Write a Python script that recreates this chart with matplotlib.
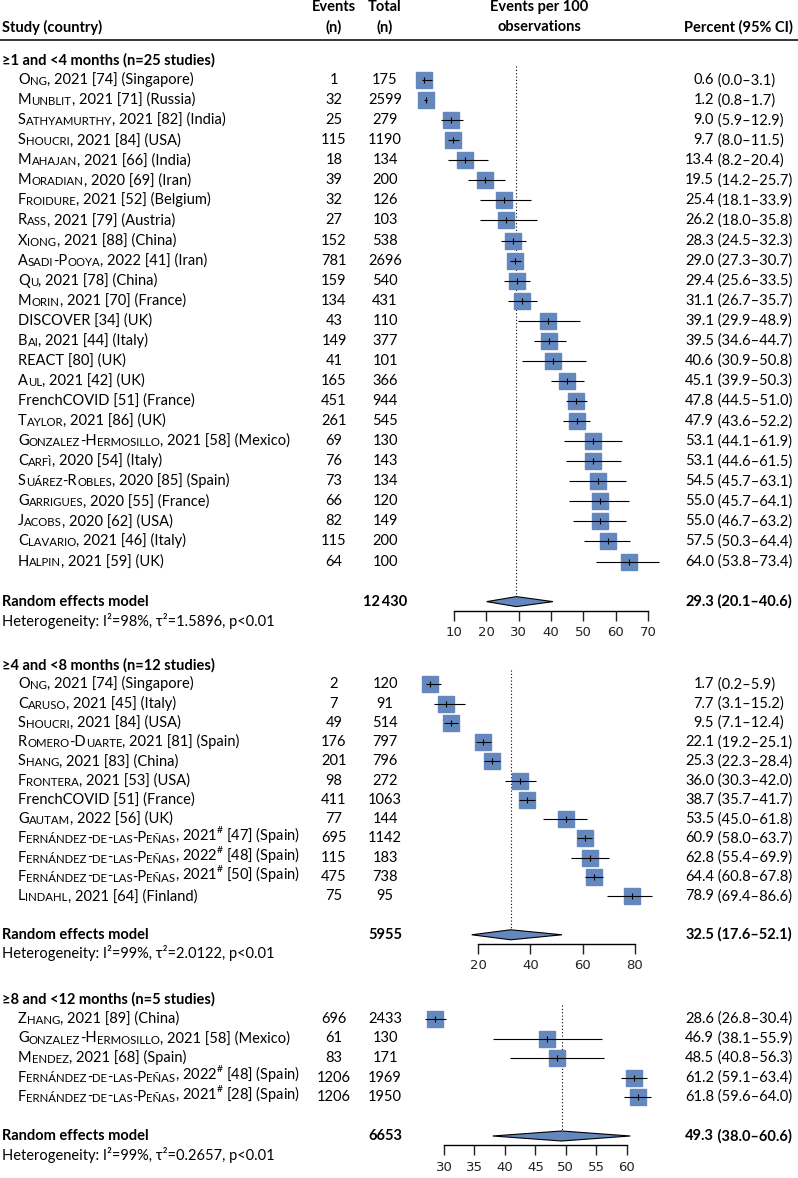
import matplotlib
matplotlib.use('Agg')

import matplotlib.pyplot as plt
from matplotlib.patches import Polygon

plt.rcParams['font.family'] = ['Lato', 'DejaVu Sans']
plt.rcParams['mathtext.fontset'] = 'custom'
plt.rcParams['mathtext.rm'] = 'Lato'
plt.rcParams['mathtext.bf'] = 'Lato:bold'

W, H = 798, 1178
FS = 10.5
BOX = '#6487BE'

# ----------------------------
# data: >=1 and <4 months
# ----------------------------
s1_title = "≥1 and <4 months (n=25 studies)"
s1_author = ["Ong", "Munblit", "Sathyamurthy", "Shoucri", "Mahajan", "Moradian",
             "Froidure", "Rass", "Xiong", "Asadi-Pooya", "Qu", "Morin", "",
             "Bai", "", "Aul", "", "Taylor", "Gonzalez-Hermosillo", "Carfì",
             "Suárez-Robles", "Garrigues", "Jacobs", "Clavario", "Halpin"]
s1_rest = [", 2021 [74] (Singapore)", ", 2021 [71] (Russia)", ", 2021 [82] (India)",
           ", 2021 [84] (USA)", ", 2021 [66] (India)", ", 2020 [69] (Iran)",
           ", 2021 [52] (Belgium)", ", 2021 [79] (Austria)", ", 2021 [88] (China)",
           ", 2022 [41] (Iran)", ", 2021 [78] (China)", ", 2021 [70] (France)",
           "DISCOVER [34] (UK)", ", 2021 [44] (Italy)", "REACT [80] (UK)",
           ", 2021 [42] (UK)", "FrenchCOVID [51] (France)", ", 2021 [86] (UK)",
           ", 2021 [58] (Mexico)", ", 2020 [54] (Italy)", ", 2020 [85] (Spain)",
           ", 2020 [55] (France)", ", 2020 [62] (USA)", ", 2021 [46] (Italy)",
           ", 2021 [59] (UK)"]
s1_events = [1, 32, 25, 115, 18, 39, 32, 27, 152, 781, 159, 134, 43, 149, 41, 165,
             451, 261, 69, 76, 73, 66, 82, 115, 64]
s1_total = [175, 2599, 279, 1190, 134, 200, 126, 103, 538, 2696, 540, 431, 110, 377,
            101, 366, 944, 545, 130, 143, 134, 120, 149, 200, 100]
s1_est = [0.6, 1.2, 9.0, 9.7, 13.4, 19.5, 25.4, 26.2, 28.3, 29.0, 29.4, 31.1, 39.1,
          39.5, 40.6, 45.1, 47.8, 47.9, 53.1, 53.1, 54.5, 55.0, 55.0, 57.5, 64.0]
s1_lo = [0.0, 0.8, 5.9, 8.0, 8.2, 14.2, 18.1, 18.0, 24.5, 27.3, 25.6, 26.7, 29.9,
         34.6, 30.9, 39.9, 44.5, 43.6, 44.1, 44.6, 45.7, 45.7, 46.7, 50.3, 53.8]
s1_hi = [3.1, 1.7, 12.9, 11.5, 20.4, 25.7, 33.9, 35.8, 32.3, 30.7, 33.5, 35.7, 48.9,
         44.7, 50.8, 50.3, 51.0, 52.2, 61.9, 61.5, 63.1, 64.1, 63.2, 64.4, 73.4]
s1_re = [29.3, 20.1, 40.6]
s1_sum = "12\u2009430"
s1_het = "Heterogeneity: I²=98%, τ²=1.5896, p<0.01"
s1_ticks = [10, 20, 30, 40, 50, 60, 70]

# ----------------------------
# data: >=4 and <8 months
# ----------------------------
s2_title = "≥4 and <8 months (n=12 studies)"
s2_author = ["Ong", "Caruso", "Shoucri", "Romero-Duarte", "Shang", "Frontera", "",
             "Gautam", "Fernández-de-las-Peñas", "Fernández-de-las-Peñas",
             "Fernández-de-las-Peñas", "Lindahl"]
s2_rest = [", 2021 [74] (Singapore)", ", 2021 [45] (Italy)", ", 2021 [84] (USA)",
           ", 2021 [81] (Spain)", ", 2021 [83] (China)", ", 2021 [53] (USA)",
           "FrenchCOVID [51] (France)", ", 2022 [56] (UK)",
           r", 2021$^{\#}$ [47] (Spain)", r", 2022$^{\#}$ [48] (Spain)",
           r", 2021$^{\#}$ [50] (Spain)", ", 2021 [64] (Finland)"]
s2_events = [2, 7, 49, 176, 201, 98, 411, 77, 695, 115, 475, 75]
s2_total = [120, 91, 514, 797, 796, 272, 1063, 144, 1142, 183, 738, 95]
s2_est = [1.7, 7.7, 9.5, 22.1, 25.3, 36.0, 38.7, 53.5, 60.9, 62.8, 64.4, 78.9]
s2_lo = [0.2, 3.1, 7.1, 19.2, 22.3, 30.3, 35.7, 45.0, 58.0, 55.4, 60.8, 69.4]
s2_hi = [5.9, 15.2, 12.4, 25.1, 28.4, 42.0, 41.7, 61.8, 63.7, 69.9, 67.8, 86.6]
s2_re = [32.5, 17.6, 52.1]
s2_sum = "5955"
s2_het = "Heterogeneity: I²=99%, τ²=2.0122, p<0.01"
s2_ticks = [20, 40, 60, 80]

# ----------------------------
# data: >=8 and <12 months
# ----------------------------
s3_title = "≥8 and <12 months (n=5 studies)"
s3_author = ["Zhang", "Gonzalez-Hermosillo", "Mendez", "Fernández-de-las-Peñas",
             "Fernández-de-las-Peñas"]
s3_rest = [", 2021 [89] (China)", ", 2021 [58] (Mexico)", ", 2021 [68] (Spain)",
           r", 2022$^{\#}$ [48] (Spain)", r", 2021$^{\#}$ [28] (Spain)"]
s3_events = [696, 61, 83, 1206, 1206]
s3_total = [2433, 130, 171, 1969, 1950]
s3_est = [28.6, 46.9, 48.5, 61.2, 61.8]
s3_lo = [26.8, 38.1, 40.8, 59.1, 59.6]
s3_hi = [30.4, 55.9, 56.3, 63.4, 64.0]
s3_re = [49.3, 38.0, 60.6]
s3_sum = "6653"
s3_het = "Heterogeneity: I²=99%, τ²=0.2657, p<0.01"
s3_ticks = [30, 35, 40, 45, 50, 55, 60]

sections = [
    dict(title=s1_title, author=s1_author, rest=s1_rest, events=s1_events,
         total=s1_total, est=s1_est, lo=s1_lo, hi=s1_hi, re=s1_re, sum=s1_sum,
         het=s1_het, ticks=s1_ticks,
         head_y=60, step=20.06, xmap=(10, 454, 70, 648)),
    dict(title=s2_title, author=s2_author, rest=s2_rest, events=s2_events,
         total=s2_total, est=s2_est, lo=s2_lo, hi=s2_hi, re=s2_re, sum=s2_sum,
         het=s2_het, ticks=s2_ticks,
         head_y=665, step=19.27, xmap=(20, 478, 80, 635)),
    dict(title=s3_title, author=s3_author, rest=s3_rest, events=s3_events,
         total=s3_total, est=s3_est, lo=s3_lo, hi=s3_hi, re=s3_re, sum=s3_sum,
         het=s3_het, ticks=s3_ticks,
         head_y=999.5, step=19.5, xmap=(30, 444, 60, 626.7)),
]

# column x positions (pixels)
X_STUDY = 2
X_INDENT = 18
X_EVENTS = 334
X_TOTAL = 385
X_EST = 714
X_PCT = 793
FX0, FX1 = 400, 705   # pixel span of the forest panels


def smallcaps_label(ax, x, y, author, rest):
    pieces = []
    for ch in author:
        small = ch.islower()
        if pieces and pieces[-1][1] == small:
            pieces[-1][0] += ch.upper()
        else:
            pieces.append([ch.upper(), small])
    pieces.append([rest, False])
    prev = None
    for txt, small in pieces:
        fs = FS * 0.78 if small else FS
        if prev is None:
            prev = ax.text(x, y, txt, fontsize=fs, va='center', ha='left')
        else:
            prev = ax.annotate(txt, xy=(1, 0), xycoords=prev, fontsize=fs,
                               va='bottom', ha='left')


def pct_text(ax, y, est, lo, hi, weight='normal'):
    ax.text(X_EST, y, f"{est:.1f}", ha='right', va='center', fontsize=FS,
            fontweight=weight)
    ax.text(X_EST, y, f" ({lo:.1f}\u2013{hi:.1f})", ha='left', va='center',
            fontsize=FS, fontweight=weight)


fig = plt.figure(figsize=(W / 100, H / 100), dpi=100)
lay = fig.add_axes([0, 0, 1, 1])
lay.set_xlim(0, W)
lay.set_ylim(H, 0)
lay.axis('off')

# header
lay.text(X_STUDY, 27, "Study (country)", fontsize=FS, fontweight='bold', va='center')
lay.text(X_EVENTS, 7, "Events", fontsize=FS, fontweight='bold', va='center', ha='center')
lay.text(X_EVENTS, 27, "(n)", fontsize=FS, fontweight='bold', va='center', ha='center')
lay.text(X_TOTAL, 7, "Total", fontsize=FS, fontweight='bold', va='center', ha='center')
lay.text(X_TOTAL, 27, "(n)", fontsize=FS, fontweight='bold', va='center', ha='center')
lay.text(539, 7, "Events per 100", fontsize=FS, fontweight='bold', va='center', ha='center')
lay.text(539, 27, "observations", fontsize=FS, fontweight='bold', va='center', ha='center')
lay.text(X_PCT, 27, "Percent (95% CI)", fontsize=FS, fontweight='bold', va='center', ha='right')
lay.plot([0, W], [39.5, 39.5], color='black', lw=1.1)

for sec in sections:
    n = len(sec['est'])
    step = sec['step']
    head_y = sec['head_y']
    ys = [head_y + step * (i + 1) for i in range(n)]
    re_y = ys[-1] + 2 * step
    het_y = re_y + step * 0.97
    axis_y = re_y + 9

    # text columns
    lay.text(X_STUDY, head_y, sec['title'], fontsize=FS, fontweight='bold', va='center')
    for i in range(n):
        smallcaps_label(lay, X_INDENT, ys[i], sec['author'][i], sec['rest'][i])
        lay.text(X_EVENTS, ys[i], str(sec['events'][i]), fontsize=FS, va='center', ha='center')
        lay.text(X_TOTAL, ys[i], str(sec['total'][i]), fontsize=FS, va='center', ha='center')
        pct_text(lay, ys[i], sec['est'][i], sec['lo'][i], sec['hi'][i])
    lay.text(X_STUDY, re_y, "Random effects model", fontsize=FS, fontweight='bold', va='center')
    lay.text(X_TOTAL, re_y, sec['sum'], fontsize=FS, fontweight='bold', va='center', ha='center')
    pct_text(lay, re_y, *sec['re'], weight='bold')
    lay.text(X_STUDY, het_y, sec['het'], fontsize=FS, va='center')

    # forest panel with its own x scale
    va_, pa, vb, pb = sec['xmap']
    k = (vb - va_) / (pb - pa)
    ax = fig.add_axes([FX0 / W, 0, (FX1 - FX0) / W, 1])
    ax.set_xlim(va_ + (FX0 - pa) * k, va_ + (FX1 - pa) * k)
    ax.set_ylim(H, 0)
    ax.patch.set_visible(False)
    for side in ['top', 'left', 'right']:
        ax.spines[side].set_visible(False)
    ax.spines['bottom'].set_position(('data', axis_y))
    ax.spines['bottom'].set_bounds(sec['ticks'][0], sec['ticks'][-1])
    ax.spines['bottom'].set_linewidth(1.0)
    ax.set_yticks([])
    ax.set_xticks(sec['ticks'])
    ax.set_xticklabels([str(t) for t in sec['ticks']], family='DejaVu Sans', fontsize=9.5)
    ax.tick_params(axis='x', direction='out', length=7.2, width=1.0, pad=4,
                   colors='#222222')

    re_est, re_lo, re_hi = sec['re']
    ax.vlines(re_est, ys[0] - 14, re_y - 5, colors='black', linestyles=(0, (1, 2)), lw=0.8)
    ax.plot(sec['est'], ys, ls='none', marker='s', ms=11.2, mfc=BOX, mec=BOX, zorder=2)
    ax.hlines(ys, sec['lo'], sec['hi'], colors='black', lw=0.8, zorder=3)
    ax.plot(sec['est'], ys, ls='none', marker='|', ms=5, mew=0.8, color='black', zorder=4)
    ax.add_patch(Polygon([(re_lo, re_y), (re_est, re_y - 5), (re_hi, re_y), (re_est, re_y + 5)],
                         closed=True, fc=BOX, ec='black', lw=0.8, zorder=3))

fig.savefig('out.png', dpi=100)
